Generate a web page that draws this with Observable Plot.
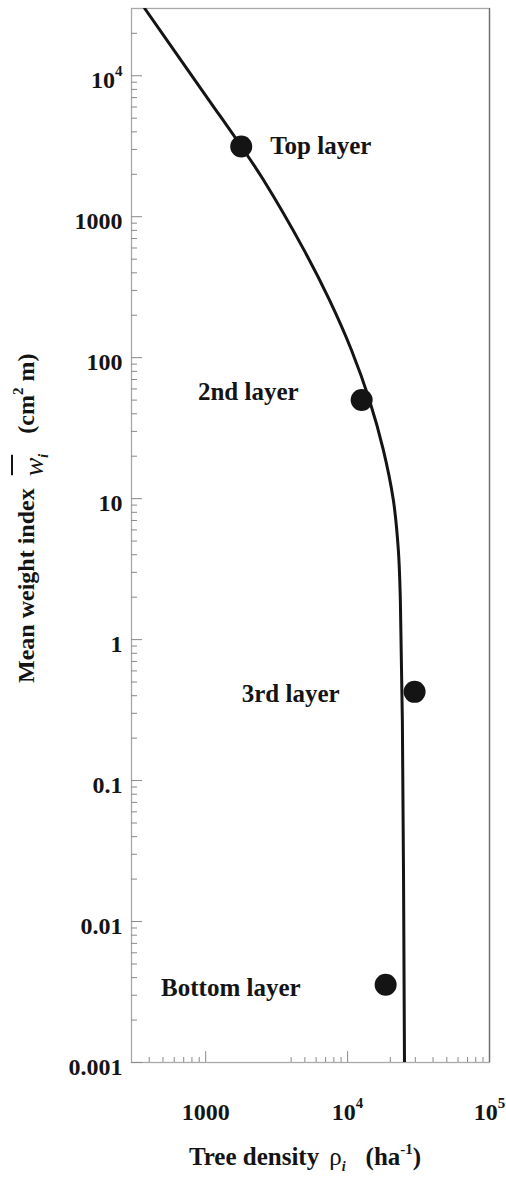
<!DOCTYPE html>
<html>
<head>
<meta charset="utf-8">
<script src="https://cdn.jsdelivr.net/npm/d3@7"></script>
<script src="https://cdn.jsdelivr.net/npm/@observablehq/plot@0.6"></script>
<style>
  html, body { margin: 0; padding: 0; background: #fff; }
  #chart svg { display: block; }
</style>
</head>
<body>
<div id="chart"></div>
<script>
// ---- Data ----
// Fitted curve (tree density, mean weight index)
const curveDensity = [372, 1050, 1783, 2549, 4924, 7443, 10640, 14240, 17870, 21010, 22790, 23540, 24320, 25170];
const curveWeight  = [30000, 6755, 3148, 1827, 581.6, 256.9, 113.4, 50.1, 22.1, 9.77, 4.31, 1.905, 0.268, 0.001];
// Observed layers
const layerNames   = ["Top layer", "2nd layer", "3rd layer", "Bottom layer"];
const layerDensity = [1780, 12560, 29650, 18540];
const layerWeight  = [3150, 50.1, 0.426, 0.00356];
// Axis ticks
const xTickValues = [1000, 10000, 100000];
const xTickLabels = ["1000", "10^4", "10^5"];
const xMinorTicks = [400, 500, 600, 700, 800, 900, 4000, 5000, 6000, 7000, 8000, 9000,
                     20000, 30000, 40000, 50000, 60000, 70000, 80000, 90000];
const yTickValues = [0.001, 0.01, 0.1, 1, 10, 100, 1000, 10000];
const yTickLabels = ["0.001", "0.01", "0.1", "1", "10", "100", "1000", "10^4"];
const yMinorMultipliers = [2, 3, 4, 5, 6, 7, 8, 9];

// ---- Build ----
const W = 506, H = 1181;
const mTop = 8, mRight = 17, mBottom = 119, mLeft = 131;
const fw = W - mLeft - mRight;
const fh = H - mTop - mBottom;
const FONT = '"Liberation Serif", "Times New Roman", Times, serif';
const INK = "#141414";

const curve = curveDensity.map((x, i) => ({x, y: curveWeight[i]}));
const layers = layerNames.map((name, i) => ({name, x: layerDensity[i], y: layerWeight[i]}));
const yMinorTicks = yTickValues.flatMap(v => yMinorMultipliers.map(m => v * m)).filter(v => v < 30000);
const byName = n => layers.filter(d => d.name === n);
const labelStyle = {x: "x", y: "y", text: "name", fontSize: 25, fontWeight: "bold", fill: INK};

const plot = Plot.plot({
  width: W, height: H,
  marginTop: mTop, marginRight: mRight, marginBottom: mBottom, marginLeft: mLeft,
  x: {type: "log", domain: [300, 100000], axis: null},
  y: {type: "log", domain: [0.001, 30000], axis: null},
  style: {fontFamily: FONT, background: "#fff", color: INK},
  marks: [
    Plot.frame({stroke: "#a8a8a8", strokeWidth: 1.3}),
    Plot.ruleX([100000], {stroke: "#6e6e6e", strokeWidth: 1.3}),
    Plot.tickY(yMinorTicks, {y: d => d, insetRight: fw - 6, stroke: "#8a8a8a", strokeWidth: 1}),
    Plot.tickY(yTickValues, {y: d => d, insetRight: fw - 11, stroke: "#8a8a8a", strokeWidth: 1}),
    Plot.tickX(xMinorTicks, {x: d => d, insetTop: fh - 5, stroke: "#8a8a8a", strokeWidth: 1}),
    Plot.tickX(xTickValues.filter(v => v < 100000), {x: d => d, insetTop: fh - 11, stroke: "#8a8a8a", strokeWidth: 1}),
    Plot.line(curve, {x: "x", y: "y", stroke: INK, strokeWidth: 3, curve: "catmull-rom", clip: true}),
    Plot.dot(layers, {x: "x", y: "y", r: 11, fill: INK, stroke: "none"}),
    Plot.text(byName("Top layer"), {...labelStyle, textAnchor: "start", dx: 29, dy: 0}),
    Plot.text(byName("2nd layer"), {...labelStyle, textAnchor: "end", dx: -63, dy: -8}),
    Plot.text(byName("3rd layer"), {...labelStyle, textAnchor: "end", dx: -75, dy: 2}),
    Plot.text(byName("Bottom layer"), {...labelStyle, textAnchor: "end", dx: -85, dy: 3}),
    Plot.text(yTickValues, {y: d => d, text: (d, i) => yTickLabels[i], frameAnchor: "left",
      textAnchor: "end", dx: -9, dy: 5, fontSize: 24, fontWeight: "bold", fill: INK}),
    Plot.text(xTickValues, {x: d => d, text: (d, i) => xTickLabels[i], frameAnchor: "bottom",
      lineAnchor: "bottom", dy: 57, fontSize: 24, fontWeight: "bold", fill: INK})
  ]
});

document.getElementById("chart").appendChild(plot);
const svg = d3.select(plot);

// superscripts in tick labels like 10^4
svg.selectAll("text").each(function() {
  const s = this.textContent;
  const m = /^(\d+)\^(-?\d+)$/.exec(s);
  if (m) {
    this.textContent = "";
    const t = d3.select(this);
    t.append("tspan").text(m[1]);
    t.append("tspan").attr("dy", "-12").attr("font-size", "15").text(m[2]);
  }
});

// axis titles
const g = svg.append("g")
  .attr("font-family", FONT).attr("font-weight", "bold")
  .attr("font-size", 24).attr("fill", INK)
  .style("white-space", "pre");

// X title: Tree density  ρ_i  (ha^-1)
const xt = g.append("text").attr("x", 305).attr("y", 1165).attr("text-anchor", "middle").attr("font-size", 25);
xt.append("tspan").text("Tree density");
xt.append("tspan").attr("dx", 10).attr("font-weight", "normal").text("ρ");
xt.append("tspan").attr("dy", 6).attr("font-size", 14).attr("font-style", "italic").text("i");
xt.append("tspan").attr("dy", -6).attr("dx", 20).text("(ha");
xt.append("tspan").attr("dy", -11).attr("font-size", 15).text("-1");
xt.append("tspan").attr("dy", 11).text(")");

// Y title: Mean weight index  w̄_i  (cm^2 m)
const yt = g.append("text").attr("transform", "translate(34,683) rotate(-90)").attr("text-anchor", "start");
yt.append("tspan").text("Mean weight index ");
yt.append("tspan").attr("dy", 9).attr("font-style", "italic").attr("font-weight", "normal")
  .attr("font-size", 28).attr("dx", 6).text("w");
yt.append("tspan").attr("dy", 5).attr("font-size", 14).attr("font-style", "italic").text("i");
yt.append("tspan").attr("dy", -14).attr("dx", 20).text("(cm");
yt.append("tspan").attr("dy", -11).attr("font-size", 15).text("2");
yt.append("tspan").attr("dy", 11).text(" m)");

// overbar above the w
try {
  const node = yt.node();
  const idx = "Mean weight index ".length;
  const ext = node.getExtentOfChar(idx);
  g.append("line")
    .attr("transform", "translate(34,683) rotate(-90)")
    .attr("x1", ext.x + 1).attr("x2", ext.x + ext.width + 3)
    .attr("y1", -22).attr("y2", -22)
    .attr("stroke", INK).attr("stroke-width", 2);
} catch (e) {}
</script>
</body>
</html>
